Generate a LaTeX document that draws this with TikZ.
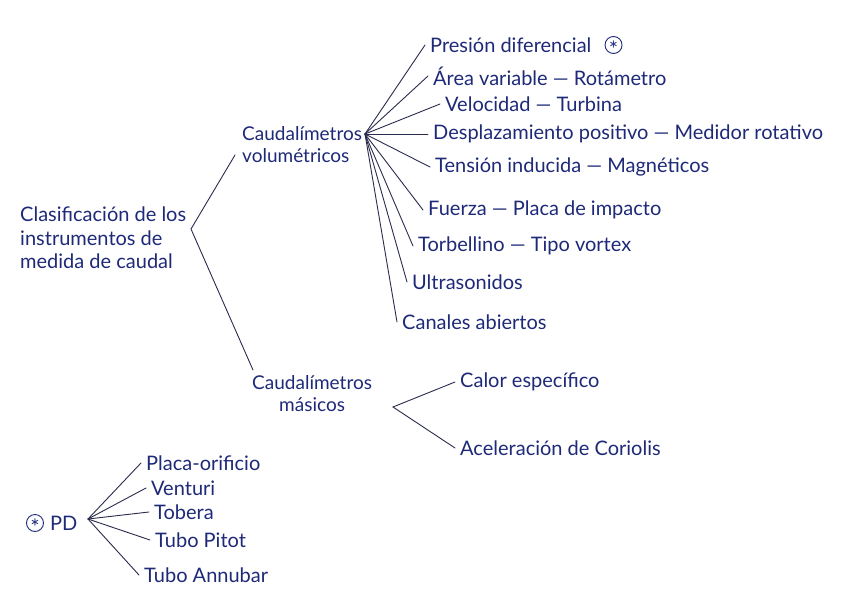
\documentclass[tikz,border=0pt]{standalone}
\usepackage{fontspec}
\setmainfont{Lato}
\usepackage{xcolor}
\definecolor{inkblue}{HTML}{1E2A78}
\definecolor{penline}{HTML}{2A2C4E}
\usepackage{tikz}
\usetikzlibrary{positioning}

\begin{document}
\begin{tikzpicture}[x=1pt, y=-1pt,
    txt/.style={anchor=west, inner sep=2pt, font=\fontsize{20}{23.5}\selectfont, text=inkblue, align=left},
    group/.style={txt, font=\fontsize{19}{22}\selectfont},
    leaf/.style={txt, inner xsep=5pt},
    stroke/.style={draw=penline, line width=0.9pt, line cap=round},
    starmark/.style={circle, draw=inkblue, line width=0.9pt, inner sep=0pt, minimum size=17pt, text=inkblue, font=\fontsize{22}{22}\selectfont},
]
    \fill[white] (0,0) rectangle (848,599);
    \useasboundingbox (0,0) rectangle (848,599);

    % main classification
    \node[txt] (root) at (18,238) {Clasificación de los\\instrumentos de\\medida de caudal};
    \node[group] (vol) at (240,145) {Caudalímetros\\volumétricos};
    \node[group, align=center] (mas) at (250,394) {Caudalímetros\\másicos};

    \coordinate (rootv) at (191,229);
    \coordinate (rootup) at (235,155);
    \coordinate (rootdn) at (253,370);
    \draw[stroke] (rootup) -- (rootv) -- (rootdn);

    % volumetric branch
    \coordinate (volhub) at (365,134);
    \node[leaf] (pres) at (425,45) {Presión diferencial};
    \node[starmark, right=8pt of pres] (presmark) {\smash{\raisebox{-0.58em}{*}}};
    \node[leaf] (area) at (428,76) {Área variable — Rotámetro};
    \node[leaf] (vel) at (440,104) {Velocidad — Turbina};
    \node[leaf] (desp) at (428,134) {Desplazamiento positivo — Medidor rotativo};
    \node[leaf] (tens) at (430,167) {Tensión inducida — Magnéticos};
    \node[leaf] (fuer) at (423,210) {Fuerza — Placa de impacto};
    \node[leaf] (torb) at (413,246) {Torbellino — Tipo vortex};
    \node[leaf] (ultr) at (407,282) {Ultrasonidos};
    \node[leaf] (cana) at (397,322) {Canales abiertos};

    \foreach \leafname in {pres, area, vel, desp, tens, fuer, torb, ultr, cana}
        \draw[stroke] (volhub) -- (\leafname.west);

    % mass branch
    \coordinate (masv) at (393,407);
    \node[leaf] (calor) at (455,382) {Calor específico};
    \node[leaf] (acel) at (455,448) {Aceleración de Coriolis};
    \draw[stroke] (calor.west) -- (masv) -- (acel.west);

    % (*) PD
    \node[starmark] (pdmark) at (35,523) {\smash{\raisebox{-0.58em}{*}}};
    \node[txt, right=4pt of pdmark] (pd) {PD};
    \coordinate (pdhub) at (88,519);
    \node[leaf] (plac) at (141,463) {Placa-orificio};
    \node[leaf] (vent) at (146,488) {Venturi};
    \node[leaf] (tobe) at (149,512) {Tobera};
    \node[leaf] (pito) at (150,540) {Tubo Pitot};
    \node[leaf] (annu) at (139,575) {Tubo Annubar};

    \foreach \leafname in {plac, vent, tobe, pito, annu}
        \draw[stroke] (pdhub) -- (\leafname.west);
\end{tikzpicture}
\end{document}
